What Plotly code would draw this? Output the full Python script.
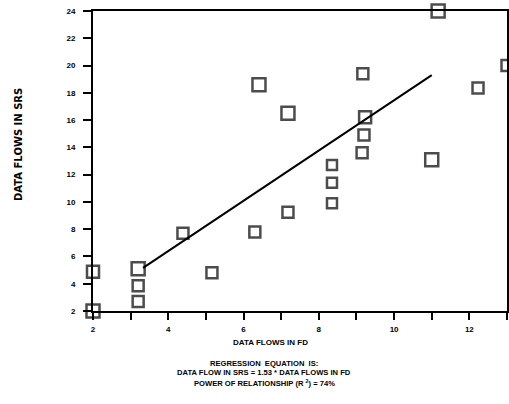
import plotly.graph_objects as go

# Data
fd_values = [11.17, 13.0, 6.41, 7.18, 9.17, 9.23, 9.2, 9.15, 8.35, 8.35, 8.35,
             11.0, 12.23, 7.18, 6.3, 2.0, 2.0, 3.2, 3.2, 3.2, 4.39, 5.16]
srs_values = [24.0, 20.0, 18.6, 16.5, 19.4, 16.2, 14.9, 13.6, 12.7, 11.4, 9.9,
              13.1, 18.35, 9.25, 7.8, 4.87, 2.0, 5.1, 3.85, 2.7, 7.7, 4.8]
marker_sizes = [13, 11, 13, 13, 11, 12, 11, 11, 10, 10, 10,
                13, 11, 11, 11, 12, 13, 13, 11, 11, 11, 11]

fit_x = [3.33, 11.0]
fit_y = [5.16, 19.3]

y_ticks = [2, 4, 6, 8, 10, 12, 14, 16, 18, 20, 22, 24]
x_major_ticks = [2, 4, 6, 8, 10, 12]
x_minor_ticks = [3, 5, 7, 9, 11, 13]

caption_lines = [
    "REGRESSION  EQUATION  IS:",
    "DATA FLOW IN SRS = 1.53 * DATA FLOWS IN FD",
    "POWER OF RELATIONSHIP (R <sup>2</sup>) = 74%",
]

FONT = "Liberation Sans"

fig = go.Figure()
fig.add_trace(go.Scatter(
    x=fit_x, y=fit_y, mode="lines",
    line=dict(color="black", width=2),
    hoverinfo="skip", showlegend=False,
))
fig.add_trace(go.Scatter(
    x=fd_values, y=srs_values, mode="markers",
    marker=dict(symbol="square-open", size=marker_sizes, color="black",
                line=dict(color="black", width=2.5)),
    cliponaxis=False, showlegend=False,
))

axis_common = dict(
    showgrid=False, zeroline=False, showline=True, linecolor="black",
    linewidth=2, mirror=True, ticks="outside", tickwidth=2,
    tickcolor="black",
    tickfont=dict(family=FONT, size=8, color="black", weight="bold"),
)

fig.update_xaxes(range=[2, 13], tickmode="array", tickvals=x_major_ticks,
                 ticklen=7, ticklabelstandoff=2,
                 minor=dict(tickmode="array", tickvals=x_minor_ticks,
                            ticks="outside", ticklen=7, tickwidth=2,
                            tickcolor="black", showgrid=False),
                 **axis_common)
fig.update_yaxes(range=[2, 24], tickmode="array", tickvals=y_ticks,
                 ticklen=8, ticklabelstandoff=6, **axis_common)

W, H = 509, 404
pl, pr, pt, pb = 93, 2, 11, 93
pw, ph = W - pl - pr, H - pt - pb

fig.update_layout(
    width=W, height=H,
    margin=dict(l=pl, r=pr, t=pt, b=pb, autoexpand=False),
    paper_bgcolor="white", plot_bgcolor="white",
    font=dict(family=FONT, color="black", weight="bold"),
)


def px_to_paper(px, py):
    return (px - pl) / pw, (H - pb - py) / ph


def add_text(text, px, py, size=7.5, angle=0, family=FONT):
    xx, yy = px_to_paper(px, py)
    fig.add_annotation(text=text, x=xx, y=yy, xref="paper", yref="paper",
                       showarrow=False, textangle=angle, xanchor="center",
                       yanchor="middle",
                       font=dict(family=family, size=size, color="black",
                                 weight="bold"))


add_text("DATA FLOWS IN FD", 270, 342, size=8)
for line, py in zip(caption_lines, [363, 373, 383]):
    add_text(line, 264, py, size=7.6)
add_text("DATA FLOWS IN SRS", 18, 145, size=10, angle=-90, family="DejaVu Sans")

fig.write_html("out.html",
               config={"displayModeBar": False},
               post_script="document.body.style.margin='0';"
                           "document.body.style.overflow='hidden';")
